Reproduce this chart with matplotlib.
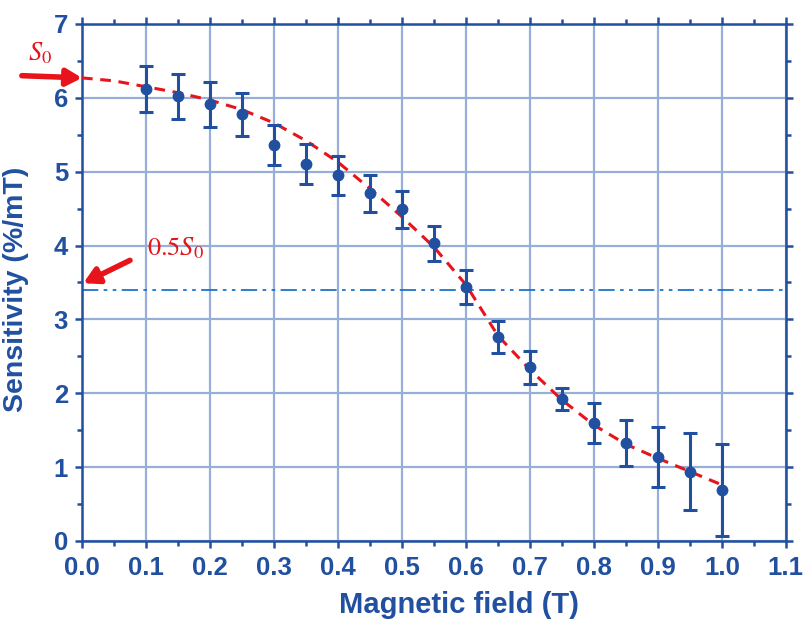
import matplotlib
matplotlib.use("Agg")
import matplotlib.pyplot as plt
from matplotlib.ticker import MultipleLocator, FormatStrFormatter

# ---- data ----
field = [0.10, 0.15, 0.20, 0.25, 0.30, 0.35, 0.40, 0.45, 0.50, 0.55,
         0.60, 0.65, 0.70, 0.75, 0.80, 0.85, 0.90, 0.95, 1.00]
sensitivity = [6.12, 6.02, 5.91, 5.78, 5.36, 5.11, 4.95, 4.71, 4.49, 4.03,
               3.44, 2.76, 2.35, 1.92, 1.60, 1.33, 1.14, 0.94, 0.69]
err = [0.31, 0.30, 0.30, 0.29, 0.27, 0.27, 0.26, 0.25, 0.25, 0.24,
       0.23, 0.22, 0.22, 0.15, 0.27, 0.31, 0.41, 0.52, 0.62]

fit_x = [0.00, 0.05, 0.10, 0.15, 0.20, 0.25, 0.30, 0.35, 0.40, 0.45, 0.50,
         0.55, 0.60, 0.65, 0.70, 0.75, 0.80, 0.85, 0.90, 0.95, 1.00]
fit_y = [6.27, 6.23, 6.15, 6.07, 5.97, 5.84, 5.66, 5.42, 5.13, 4.77, 4.39,
         3.98, 3.47, 2.78, 2.32, 1.91, 1.57, 1.31, 1.12, 0.94, 0.76]

half_level = 3.40
xticks = [0.0, 0.1, 0.2, 0.3, 0.4, 0.5, 0.6, 0.7, 0.8, 0.9, 1.0, 1.1]
yticks = [0, 1, 2, 3, 4, 5, 6, 7]

DARK = "#2150a0"
GRID = "#97aed8"
RED = "#e8141c"
DASHDOT = "#1c74c9"

plt.rcParams['font.family'] = ['Liberation Sans', 'DejaVu Sans']
plt.rcParams['mathtext.fontset'] = 'stix'

fig = plt.figure(figsize=(8.07, 6.26), dpi=100)
ax = fig.add_axes([0.1016, 0.1358, 0.8722, 0.8259])

ax.set_xlim(0, 1.1)
ax.set_ylim(0, 7)
ax.set_xticks(xticks)
ax.set_yticks(yticks)
ax.xaxis.set_minor_locator(MultipleLocator(0.05))
ax.yaxis.set_minor_locator(MultipleLocator(0.5))
ax.xaxis.set_major_formatter(FormatStrFormatter('%.1f'))
ax.grid(True, which='major', color=GRID, linewidth=1.6, zorder=0)
ax.set_axisbelow(True)

for s in ax.spines.values():
    s.set_color(DARK)
    s.set_linewidth(1.8)

ax.tick_params(which='both', colors=DARK, direction='out', top=True, right=True,
               width=1.8)
ax.tick_params(which='major', length=5, labelsize=18.5)
ax.tick_params(axis='x', which='major', pad=6)
ax.tick_params(axis='y', which='major', pad=5)
ax.tick_params(which='minor', length=3.5)
for lab in ax.get_xticklabels() + ax.get_yticklabels():
    lab.set_fontweight('bold')

# reference level
ax.axhline(half_level, color=DASHDOT, linewidth=1.3,
           dashes=(9, 3, 2, 3, 2, 3), zorder=2)

# fit curve
ax.plot(fit_x, fit_y, color=RED, linewidth=2.2, dashes=(3.5, 2.5), zorder=4)

# data
ax.errorbar(field, sensitivity, yerr=err, fmt='o', color=DARK, ecolor=DARK,
            markersize=7.5, elinewidth=2.2, capsize=5, capthick=2.2, zorder=5)

ax.set_xlabel('Magnetic field (T)', fontsize=21, fontweight='bold', color=DARK)
ax.set_ylabel('Sensitivity (%/mT)', fontsize=20.5, fontweight='bold', color=DARK)
ax.xaxis.set_label_coords(0.535, -0.097)
ax.yaxis.set_label_coords(-0.075, 0.486)

# annotations
ax.annotate('', xy=(0.0, 6.27), xytext=(-0.094, 6.30),
            arrowprops=dict(arrowstyle='-|>,head_length=0.9,head_width=0.5',
                            color=RED, lw=4, shrinkA=0, shrinkB=0),
            annotation_clip=False, zorder=6)
ax.text(-0.084, 6.6, r'$S_0$', color=RED, fontsize=19, ha='left', va='center',
        clip_on=False)

ax.annotate('', xy=(0.002, 3.49), xytext=(0.075, 3.80),
            arrowprops=dict(arrowstyle='-|>,head_length=0.9,head_width=0.5',
                            color=RED, lw=4, shrinkA=0, shrinkB=0),
            annotation_clip=False, zorder=6)
ax.text(0.102, 3.97, r'$0.5S_0$', color=RED, fontsize=19, ha='left',
        va='center')

fig.savefig('out.png', dpi=100)
